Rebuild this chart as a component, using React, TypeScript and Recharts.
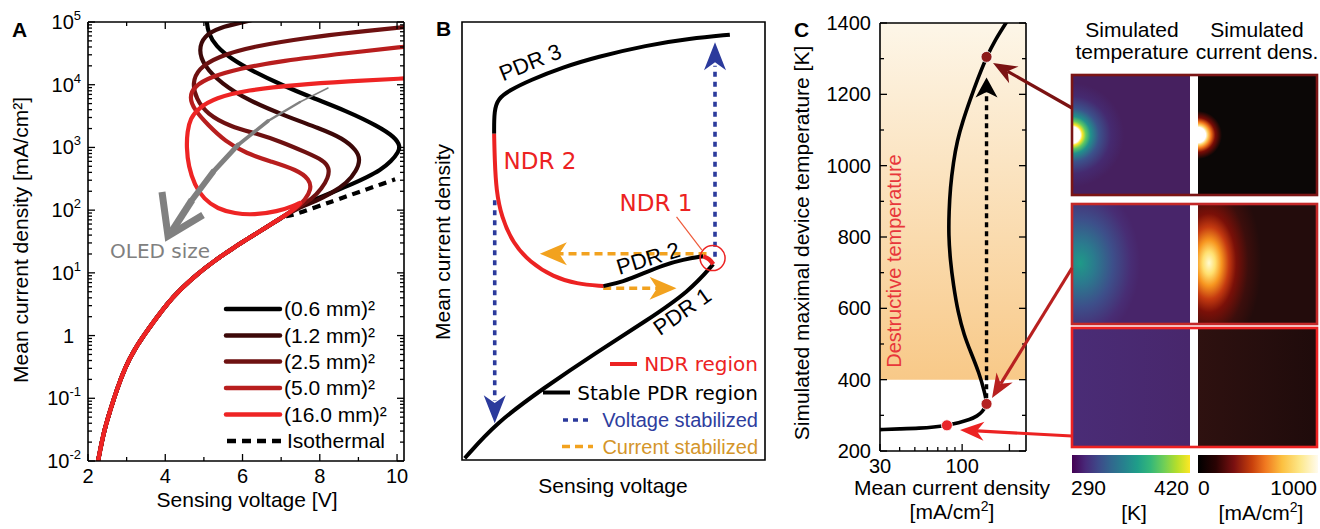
import React from 'react';
import { ComposedChart, Line, XAxis, YAxis, ReferenceArea, ReferenceDot, ReferenceLine } from 'recharts';

const SANS = "'Liberation Sans', Arial, sans-serif";
const DEJAVU = "'DejaVu Sans', Verdana, sans-serif";

// ---------------- Panel A data ----------------
const aVoltTicks = [2, 3, 4, 5, 6, 7, 8, 9, 10];
const aVoltLabels = [2, 4, 6, 8, 10];
const aDecadeExps = [-2, -1, 0, 1, 2, 3, 4, 5];
const aMinorMultipliers = [2, 3, 4, 5, 6, 7, 8, 9];
const aMajorJ = aDecadeExps.map((e) => Math.pow(10, e));
const aMinorJ = aDecadeExps.slice(0, -1).flatMap((e) => aMinorMultipliers.map((m) => m * Math.pow(10, e)));
const aJTicks = [...aMajorJ, ...aMinorJ].sort((a, b) => a - b);

const commonBranch = [
  { v: 2.26, j: 0.01 }, { v: 2.4, j: 0.028 }, { v: 2.57, j: 0.063 }, { v: 2.75, j: 0.14 },
  { v: 2.96, j: 0.31 }, { v: 3.2, j: 0.6 }, { v: 3.53, j: 1.2 }, { v: 4.04, j: 3.2 },
  { v: 4.4, j: 5.5 }, { v: 4.82, j: 9.5 }, { v: 5.3, j: 16 }, { v: 5.76, j: 25 },
  { v: 6.2, j: 37 }, { v: 6.63, j: 54 }, { v: 7.1, j: 82 },
];
const isoTail = [
  { v: 7.23, j: 80 }, { v: 7.83, j: 108 }, { v: 8.35, j: 140 }, { v: 8.8, j: 175 },
  { v: 9.22, j: 215 }, { v: 9.6, j: 260 }, { v: 9.95, j: 310 },
];
const tail06 = [
  { v: 7.5, j: 118 }, { v: 7.9, j: 150 }, { v: 8.35, j: 195 }, { v: 8.87, j: 265 }, { v: 9.22, j: 335 },
  { v: 9.56, j: 430 }, { v: 9.85, j: 600 }, { v: 10.04, j: 850 }, { v: 10.08, j: 1050 }, { v: 9.95, j: 1450 },
  { v: 9.5, j: 2200 }, { v: 8.7, j: 3800 }, { v: 7.8, j: 6200 }, { v: 7.0, j: 10000 }, { v: 6.3, j: 16000 },
  { v: 5.7, j: 26000 }, { v: 5.3, j: 42000 }, { v: 5.12, j: 65000 }, { v: 5.07, j: 100000 }, { v: 5.07, j: 130000 },
];
const tail12 = [
  { v: 7.5, j: 112 }, { v: 7.9, j: 140 }, { v: 8.3, j: 185 }, { v: 8.7, j: 270 }, { v: 8.95, j: 420 },
  { v: 9.05, j: 650 }, { v: 8.95, j: 900 }, { v: 8.6, j: 1400 }, { v: 8.0, j: 2000 }, { v: 7.1, j: 3200 },
  { v: 6.15, j: 5600 }, { v: 5.45, j: 10500 }, { v: 5.0, j: 20000 }, { v: 4.86, j: 36000 }, { v: 5.0, j: 60000 },
  { v: 5.4, j: 82000 }, { v: 6.05, j: 100000 }, { v: 6.3, j: 110000 },
];
const tail25 = [
  { v: 7.45, j: 112 }, { v: 7.8, j: 150 }, { v: 8.05, j: 220 }, { v: 8.22, j: 330 }, { v: 8.25, j: 470 },
  { v: 8.1, j: 620 }, { v: 7.67, j: 820 }, { v: 6.97, j: 1250 }, { v: 6.38, j: 1650 }, { v: 5.68, j: 2150 },
  { v: 5.08, j: 3400 }, { v: 4.8, j: 6000 }, { v: 4.7, j: 10500 }, { v: 4.85, j: 18000 }, { v: 5.35, j: 28000 },
  { v: 6.27, j: 41000 }, { v: 7.75, j: 57000 }, { v: 8.8, j: 68000 }, { v: 10.3, j: 84000 },
];
const tail50 = [
  { v: 7.4, j: 110 }, { v: 7.62, j: 145 }, { v: 7.78, j: 215 }, { v: 7.74, j: 310 }, { v: 7.41, j: 440 },
  { v: 6.72, j: 600 }, { v: 6.1, j: 800 }, { v: 5.55, j: 1250 }, { v: 5.1, j: 2300 }, { v: 4.75, j: 4000 },
  { v: 4.62, j: 6300 }, { v: 4.75, j: 9500 }, { v: 5.2, j: 13500 }, { v: 5.9, j: 18000 }, { v: 7.0, j: 24000 },
  { v: 8.7, j: 32000 }, { v: 10.3, j: 41000 },
];
const tail160 = [
  { v: 7.35, j: 105 }, { v: 7.56, j: 140 }, { v: 7.35, j: 118 }, { v: 6.9, j: 95 }, { v: 6.3, j: 84 },
  { v: 5.8, j: 88 }, { v: 5.35, j: 105 }, { v: 5.0, j: 150 }, { v: 4.76, j: 250 }, { v: 4.6, j: 500 },
  { v: 4.55, j: 1000 }, { v: 4.57, j: 1800 }, { v: 4.65, j: 2900 }, { v: 4.85, j: 4200 }, { v: 5.3, j: 6200 },
  { v: 6.1, j: 8200 }, { v: 7.4, j: 10000 }, { v: 8.7, j: 11300 }, { v: 10.3, j: 12700 },
];
const isothermal = [...commonBranch, ...isoTail];
const sizeCurves = [
  [...commonBranch, ...tail06],
  [...commonBranch, ...tail12],
  [...commonBranch, ...tail25],
  [...commonBranch, ...tail50],
  [...commonBranch, ...tail160],
];
const sizeNames = ['(0.6 mm)²', '(1.2 mm)²', '(2.5 mm)²', '(5.0 mm)²', '(16.0 mm)²'];
const sizeColors = ['#000000', '#3c0808', '#6e1111', '#b81e1e', '#ee2424'];
const isoName = 'Isothermal';

// ---------------- Panel B data (schematic, arbitrary units 0..100) ----------------
const bPdr1 = [
  { x: 0.9, y: 0.4 }, { x: 11.3, y: 8.5 }, { x: 26.7, y: 16.3 }, { x: 44.4, y: 24.6 },
  { x: 60.9, y: 31.8 }, { x: 75.2, y: 38.6 }, { x: 82.9, y: 44.7 },
];
const bNdr1 = [{ x: 82.9, y: 44.7 }, { x: 81.8, y: 45.9 }, { x: 79.6, y: 46.5 }];
const bPdr2 = [
  { x: 79.6, y: 46.5 }, { x: 73, y: 45.8 }, { x: 66.4, y: 44.5 }, { x: 59.8, y: 42.6 },
  { x: 53.2, y: 40.7 }, { x: 46.6, y: 39.7 },
];
const bNdr2 = [
  { x: 46.6, y: 39.7 }, { x: 37.8, y: 40.2 }, { x: 30.1, y: 41.8 }, { x: 22.4, y: 45.2 },
  { x: 16.9, y: 49.4 }, { x: 13, y: 55.5 }, { x: 11.3, y: 61.6 }, { x: 10.8, y: 68.4 }, { x: 10.6, y: 74.5 },
];
const bPdr3 = [
  { x: 10.6, y: 74.5 }, { x: 10.6, y: 79.8 }, { x: 11.9, y: 82.5 }, { x: 15.7, y: 84.4 },
  { x: 22.4, y: 86.7 }, { x: 33.4, y: 89.7 }, { x: 44.4, y: 92 }, { x: 60.9, y: 94.7 },
  { x: 75.2, y: 96.2 }, { x: 88.4, y: 97.1 },
];
const bVoltUp = [{ x: 83.5, y: 46.4 }, { x: 83.5, y: 90 }];
const bVoltDown = [{ x: 10.8, y: 59.3 }, { x: 10.8, y: 13.5 }];
const bCurrLeft = [{ x: 80.7, y: 47.1 }, { x: 31, y: 47.1 }];
const bCurrRight = [{ x: 46.6, y: 39.2 }, { x: 66, y: 39.2 }];
const bHeads = [
  { x: 83.5, y: 95.4, dir: 'up', color: '#2b3a9c' },
  { x: 10.8, y: 8.4, dir: 'down', color: '#2b3a9c' },
  { x: 25.7, y: 47.1, dir: 'left', color: '#f2a21f' },
  { x: 70.8, y: 39.2, dir: 'right', color: '#f2a21f' },
];
const bNdr1Marker = { x: 82.7, y: 46.1 };
const bNdr1Pointer = [{ x: 70.8, y: 55.5 }, { x: 79.2, y: 47.9 }];
const bLegendNames = ['NDR region', 'Stable PDR region', 'Voltage stabilized', 'Current stabilized'];
const bLegendLine = ['#ec2222', '#000000', '#2b3a9c', '#f2a21f'];
const bLegendText = ['#ec2222', '#000000', '#2e3d9e', '#d4952a'];

// ---------------- Panel C data ----------------
const cXTicks = [30, 40, 50, 60, 70, 80, 90, 100, 200];
const cXLabels = [30, 100];
const cYTicks = [200, 300, 400, 500, 600, 700, 800, 900, 1000, 1100, 1200, 1300, 1400];
const cYLabels = [200, 400, 600, 800, 1000, 1200, 1400];
const cCurve = [
  { j: 30, t: 260 }, { j: 40, t: 262 }, { j: 54, t: 264 }, { j: 66, t: 267 }, { j: 80, t: 272 },
  { j: 95, t: 279 }, { j: 112, t: 288 }, { j: 125, t: 298 }, { j: 135, t: 311 }, { j: 141, t: 325 },
  { j: 143, t: 338 }, { j: 139, t: 365 }, { j: 128, t: 420 }, { j: 114, t: 475 }, { j: 103, t: 524 },
  { j: 94, t: 590 }, { j: 88, t: 665 }, { j: 84, t: 735 }, { j: 82, t: 806 }, { j: 82.5, t: 870 },
  { j: 84, t: 938 }, { j: 88, t: 1010 }, { j: 93, t: 1070 }, { j: 101, t: 1125 }, { j: 112, t: 1183 },
  { j: 126, t: 1245 }, { j: 143, t: 1305 }, { j: 162, t: 1352 }, { j: 190, t: 1400 }, { j: 200, t: 1415 },
];
const cJump = [{ j: 143, t: 348 }, { j: 143, t: 1222 }];
const cJumpTip = { j: 143, t: 1247 };
const cDots = [{ j: 80, t: 272 }, { j: 143, t: 332 }, { j: 143, t: 1305 }];
const cDotColors = ['#e8262a', '#b42222', '#8c1a1a'];
const cDestructive = { tMin: 400, tMax: 1400 };

// ---------------- helpers ----------------
const near = (v: number, arr: number[]) => arr.some((a) => Math.abs(a - v) <= Math.abs(a) * 1e-6);

type Side = 'left' | 'right' | 'top' | 'bottom';
function makeTick(side: Side, majors: number[], majorLen: number, minorLen: number,
  label?: (v: number, x: number, y: number) => React.ReactNode) {
  return (p: any) => {
    const { x, y, payload } = p;
    const v = payload.value;
    const major = near(v, majors);
    const L = major ? majorLen : minorLen;
    let x2 = x, y2 = y;
    if (side === 'left') x2 = x + L;
    else if (side === 'right') x2 = x - L;
    else if (side === 'top') y2 = y + L;
    else y2 = y - L;
    return (
      <g>
        <line x1={x} y1={y} x2={x2} y2={y2} stroke="#000" strokeWidth={1.3} />
        {major && label ? label(v, x, y) : null}
      </g>
    );
  };
}

const aYLabel = (v: number, x: number, y: number) => {
  const e = aDecadeExps[aMajorJ.findIndex((m) => Math.abs(m - v) <= m * 1e-6)];
  if (e === 0) return <text x={x - 14} y={y + 7} textAnchor="end" fontSize={20} fontFamily={SANS}>1</text>;
  return (
    <text x={x - 7} y={y + 7} textAnchor="end" fontSize={20} fontFamily={SANS}>
      10<tspan dy={-9} fontSize={13}>{e}</tspan>
    </text>
  );
};
const aXLabel = (v: number, x: number, y: number) =>
  near(v, aVoltLabels) ? <text x={x} y={y + 22} textAnchor="middle" fontSize={20} fontFamily={SANS}>{v}</text> : null;
const cYLabel = (v: number, x: number, y: number) =>
  <text x={x - 9} y={y + 7} textAnchor="end" fontSize={20} fontFamily={SANS}>{v}</text>;
const cXLabel = (v: number, x: number, y: number) =>
  near(v, cXLabels) ? <text x={x} y={y + 22} textAnchor="middle" fontSize={20} fontFamily={SANS}>{v}</text> : null;

function Head({ cx, cy, dir, color, len, w }: any) {
  const d: Record<string, [number, number]> = { up: [0, -1], down: [0, 1], left: [-1, 0], right: [1, 0] };
  const [ux, uy] = d[dir];
  const nx = -uy, ny = ux;
  const bx = cx - ux * len, by = cy - uy * len;
  const mx = cx - ux * len * 0.72, my = cy - uy * len * 0.72;
  return (
    <polygon
      points={`${cx},${cy} ${bx + (nx * w) / 2},${by + (ny * w) / 2} ${mx},${my} ${bx - (nx * w) / 2},${by - (ny * w) / 2}`}
      fill={color}
    />
  );
}

function Arrow({ x1, y1, x2, y2, color, w = 3.2, hl = 24, hw = 19 }: any) {
  const dx = x2 - x1, dy = y2 - y1, L = Math.hypot(dx, dy);
  const ux = dx / L, uy = dy / L, nx = -uy, ny = ux;
  const bx = x2 - ux * hl, by = y2 - uy * hl;
  const mx = x2 - ux * hl * 0.7, my = y2 - uy * hl * 0.7;
  return (
    <g>
      <line x1={x1} y1={y1} x2={mx} y2={my} stroke={color} strokeWidth={w} />
      <polygon points={`${x2},${y2} ${bx + (nx * hw) / 2},${by + (ny * hw) / 2} ${mx},${my} ${bx - (nx * hw) / 2},${by - (ny * hw) / 2}`} fill={color} />
    </g>
  );
}

const axisLineStyle = { stroke: '#000', strokeWidth: 1.6 };

// ---------------- Panels ----------------
function PanelA() {
  return (
    <ComposedChart width={440} height={529} margin={{ top: 21, right: 35, bottom: 67, left: 87 }}>
      <XAxis xAxisId="b" dataKey="v" type="number" domain={[2, 10.18]} allowDataOverflow ticks={aVoltTicks}
        interval={0} height={1} tickSize={0} tickMargin={0} tickLine={false} axisLine={axisLineStyle}
        tick={makeTick('bottom', aVoltLabels, 7, 4, aXLabel)} />
      <XAxis xAxisId="t" orientation="top" dataKey="v" type="number" domain={[2, 10.18]} allowDataOverflow ticks={aVoltTicks}
        interval={0} height={1} tickSize={0} tickMargin={0} tickLine={false} axisLine={axisLineStyle}
        tick={makeTick('top', aVoltLabels, 7, 4)} />
      <YAxis yAxisId="l" type="number" scale="log" domain={[0.01, 100000]} allowDataOverflow ticks={aJTicks}
        interval={0} width={1} tickSize={0} tickMargin={0} tickLine={false} axisLine={axisLineStyle}
        tick={makeTick('left', aMajorJ, 7, 4, aYLabel)} />
      <YAxis yAxisId="r" orientation="right" type="number" scale="log" domain={[0.01, 100000]} allowDataOverflow ticks={aJTicks}
        interval={0} width={1} tickSize={0} tickMargin={0} tickLine={false} axisLine={axisLineStyle}
        tick={makeTick('right', aMajorJ, 7, 4)} />
      <Line xAxisId="b" yAxisId="l" data={isothermal} dataKey="j" type="basis" stroke="#000" strokeWidth={4.2}
        strokeDasharray="8 6" dot={false} activeDot={false} isAnimationActive={false} name={isoName} />
      {sizeCurves.map((c, i) => (
        <Line key={i} xAxisId="b" yAxisId="l" data={c} dataKey="j" type="basis" stroke={sizeColors[i]} strokeWidth={4.2}
          dot={false} activeDot={false} isAnimationActive={false} name={sizeNames[i]} />
      ))}
    </ComposedChart>
  );
}

function PanelB() {
  const common = { xAxisId: 'x', yAxisId: 'y', dataKey: 'y', dot: false, activeDot: false, isAnimationActive: false } as any;
  return (
    <ComposedChart width={340} height={529} margin={{ top: 22, right: 5, bottom: 69, left: 32 }}>
      <XAxis xAxisId="x" dataKey="x" type="number" domain={[0, 100]} hide allowDataOverflow />
      <YAxis yAxisId="y" type="number" domain={[0, 100]} hide allowDataOverflow />
      <ReferenceArea xAxisId="x" yAxisId="y" x1={0} x2={100} y1={0} y2={100} fill="none" stroke="#000" strokeWidth={1.6} />
      <Line {...common} data={bVoltUp} type="linear" stroke="#2b3a9c" strokeWidth={3.6} strokeDasharray="5 5" />
      <Line {...common} data={bVoltDown} type="linear" stroke="#2b3a9c" strokeWidth={3.6} strokeDasharray="5 5" />
      <Line {...common} data={bCurrLeft} type="linear" stroke="#f2a21f" strokeWidth={3.6} strokeDasharray="8 5" />
      <Line {...common} data={bCurrRight} type="linear" stroke="#f2a21f" strokeWidth={3.6} strokeDasharray="8 5" />
      <Line {...common} data={bPdr1} type="basis" stroke="#000" strokeWidth={4} />
      <Line {...common} data={bPdr2} type="basis" stroke="#000" strokeWidth={4} />
      <Line {...common} data={bPdr3} type="basis" stroke="#000" strokeWidth={4} />
      <Line {...common} data={bNdr2} type="basis" stroke="#ec2222" strokeWidth={4} />
      <Line {...common} data={bNdr1} type="basis" stroke="#ec2222" strokeWidth={4.5} />
      {bHeads.map((h, i) => (
        <ReferenceDot key={i} xAxisId="x" yAxisId="y" x={h.x} y={h.y} r={1}
          shape={(p: any) => (
            <Head cx={p.cx} cy={p.cy} dir={h.dir} color={h.color}
              len={h.dir === 'up' || h.dir === 'down' ? 28 : 27} w={h.dir === 'up' || h.dir === 'down' ? 22 : 23} />
          )} />
      ))}
      <ReferenceDot xAxisId="x" yAxisId="y" x={bNdr1Marker.x} y={bNdr1Marker.y} r={12.5} fill="none" stroke="#ec2222" strokeWidth={1.5} />
      <ReferenceLine xAxisId="x" yAxisId="y" segment={bNdr1Pointer} stroke="#ee5a3a" strokeWidth={1.2} />
    </ComposedChart>
  );
}

function PanelC() {
  return (
    <ComposedChart width={300} height={529} margin={{ top: 22, right: 43, bottom: 77, left: 109 }}>
      <XAxis xAxisId="b" dataKey="j" type="number" scale="log" domain={[30, 255]} allowDataOverflow ticks={cXTicks}
        interval={0} height={1} tickSize={0} tickMargin={0} tickLine={false} axisLine={axisLineStyle}
        tick={makeTick('bottom', [30, 100, 200], 7, 4, cXLabel)} />
      <XAxis xAxisId="t" orientation="top" dataKey="j" type="number" scale="log" domain={[30, 255]} allowDataOverflow
        ticks={cXTicks} height={1} tick={false} tickLine={false} axisLine={axisLineStyle} />
      <YAxis yAxisId="l" type="number" domain={[200, 1400]} allowDataOverflow ticks={cYTicks}
        interval={0} width={1} tickSize={0} tickMargin={0} tickLine={false} axisLine={axisLineStyle}
        tick={makeTick('left', cYLabels, 7, 4, cYLabel)} />
      <YAxis yAxisId="r" orientation="right" type="number" domain={[200, 1400]} allowDataOverflow ticks={cYTicks}
        interval={0} width={1} tickSize={0} tickMargin={0} tickLine={false} axisLine={axisLineStyle}
        tick={makeTick('right', cYLabels, 7, 4)} />
      <ReferenceArea xAxisId="b" yAxisId="l" x1={30} x2={255} y1={cDestructive.tMin} y2={cDestructive.tMax}
        fill="url(#destGrad)" fillOpacity={1} stroke="none" />
      <Line xAxisId="b" yAxisId="l" data={cJump} dataKey="t" type="linear" stroke="#000" strokeWidth={3.4}
        strokeDasharray="5 4" dot={false} activeDot={false} isAnimationActive={false} />
      <ReferenceDot xAxisId="b" yAxisId="l" x={cJumpTip.j} y={cJumpTip.t} r={1}
        shape={(p: any) => <Head cx={p.cx} cy={p.cy} dir="up" color="#000" len={20} w={22} />} />
      <Line xAxisId="b" yAxisId="l" data={cCurve} dataKey="t" type="basis" stroke="#000" strokeWidth={3.6}
        dot={false} activeDot={false} isAnimationActive={false} />
      {cDots.map((d, i) => (
        <ReferenceDot key={i} xAxisId="b" yAxisId="l" x={d.j} y={d.t} r={5.5} fill={cDotColors[i]} stroke="#fff" strokeWidth={0.8} />
      ))}
    </ComposedChart>
  );
}

// ---------------- Overlay (titles, legends, annotations, simulated maps) ----------------
const rowsY = [[75, 195], [204, 324], [328, 447]];
const rowBorder = ['#7b1515', '#c42828', '#ec2222'];
const leftImgX = [1072, 1190];
const rightImgX = [1198, 1317];

function Overlay() {
  const t = (x: number, y: number, s: string, extra: any = {}) => (
    <text x={x} y={y} fontFamily={SANS} fontSize={20} {...extra}>{s}</text>
  );
  const legRows = [309, 335.5, 361.5, 388, 414.5, 441];
  const bLegY = [364, 392.5, 420, 446.5];
  const bLegFont = [DEJAVU, DEJAVU, SANS, SANS];
  return (
    <svg width={1320} height={529} style={{ position: 'absolute', left: 0, top: 0, pointerEvents: 'none' }}>
      {/* panel letters */}
      {t(12, 37, 'A', { fontWeight: 'bold', fontSize: 21 })}
      {t(436, 36, 'B', { fontWeight: 'bold', fontSize: 21 })}
      {t(794, 37, 'C', { fontWeight: 'bold', fontSize: 21 })}

      {/* Panel A titles */}
      {t(247, 507, 'Sensing voltage [V]', { textAnchor: 'middle', fontSize: 21 })}
      <text transform="translate(28,240) rotate(-90)" textAnchor="middle" fontFamily={SANS} fontSize={21}>Mean current density [mA/cm²]</text>

      {/* gray arrow */}
      <g stroke="#808080" fill="none" strokeLinecap="round">
        <line x1={328} y1={88} x2={300} y2={102} strokeWidth={1.5} />
        <line x1={300} y1={102} x2={268} y2={121} strokeWidth={2.5} />
        <line x1={268} y1={121} x2={238} y2={145} strokeWidth={3.6} />
        <line x1={238} y1={145} x2={213} y2={172} strokeWidth={4.8} />
        <line x1={213} y1={172} x2={192} y2={200} strokeWidth={6} />
        <line x1={192} y1={200} x2={172} y2={231} strokeWidth={7} strokeLinecap="butt" />
        <polyline points="162,192 168,236 203,215" strokeWidth={7} strokeLinejoin="miter" strokeLinecap="butt" />
      </g>
      <text x={110} y={258} fontFamily={DEJAVU} fontSize={20} fill="#808080">OLED size</text>

      {/* Panel A legend */}
      {sizeNames.map((n, i) => (
        <g key={i}>
          <line x1={226} y1={legRows[i]} x2={280} y2={legRows[i]} stroke={sizeColors[i]} strokeWidth={4.5} strokeLinecap="round" />
          {t(284, legRows[i] + 7, n, { fontSize: 21 })}
        </g>
      ))}
      <line x1={227} y1={legRows[5]} x2={281} y2={legRows[5]} stroke="#000" strokeWidth={4.5} strokeDasharray="9 6" />
      {t(287, legRows[5] + 7, isoName, { fontSize: 21 })}

      {/* Panel B titles and labels */}
      {t(613, 493, 'Sensing voltage', { textAnchor: 'middle', fontSize: 21 })}
      <text transform="translate(450,242) rotate(-90)" textAnchor="middle" fontFamily={SANS} fontSize={21}>Mean current density</text>
      <text transform="translate(530,62) rotate(-22)" textAnchor="middle" y={8} fontFamily={SANS} fontSize={22}>PDR 3</text>
      <text transform="translate(648,258) rotate(-17)" textAnchor="middle" y={8} fontFamily={SANS} fontSize={22}>PDR 2</text>
      <text transform="translate(682,311) rotate(-35)" textAnchor="middle" y={8} fontFamily={SANS} fontSize={22}>PDR 1</text>
      <text x={540} y={169} textAnchor="middle" fontFamily={DEJAVU} fontSize={23} fill="#ec2222">NDR 2</text>
      <text x={656} y={211} textAnchor="middle" fontFamily={DEJAVU} fontSize={23} fill="#ec2222">NDR 1</text>

      {/* Panel B legend */}
      {bLegendNames.map((n, i) => {
        const x2 = [637, 570, 593, 593][i];
        const x1 = [610, 543, 563, 562][i];
        const dash = i === 2 ? '5 5' : i === 3 ? '8 5' : undefined;
        return (
          <g key={i}>
            <line x1={x1} y1={bLegY[i]} x2={x2} y2={bLegY[i]} stroke={bLegendLine[i]} strokeWidth={i < 2 ? 4 : 3.6} strokeDasharray={dash} />
            <text x={758} y={bLegY[i] + 7} textAnchor="end" fontFamily={bLegFont[i]} fontSize={20} fill={bLegendText[i]}>{n}</text>
          </g>
        );
      })}

      {/* Panel C titles */}
      <text transform="translate(809,243) rotate(-90)" textAnchor="middle" fontFamily={SANS} fontSize={21}>Simulated maximal device temperature [K]</text>
      {t(952, 495, 'Mean current density', { textAnchor: 'middle', fontSize: 21 })}
      <text x={952} y={519} textAnchor="middle" fontFamily={SANS} fontSize={21}>[mA/cm<tspan dy={-8} fontSize={14}>2</tspan><tspan dy={8}>]</tspan></text>
      <text transform="translate(901,261) rotate(-90)" textAnchor="middle" fontFamily={SANS} fontSize={20} fill="#e8363a">Destructive temperature</text>

      {/* image headers */}
      {t(1132, 37, 'Simulated', { textAnchor: 'middle', fontSize: 21 })}
      {t(1132, 59, 'temperature', { textAnchor: 'middle', fontSize: 21 })}
      {t(1257, 37, 'Simulated', { textAnchor: 'middle', fontSize: 21 })}
      {t(1257, 59, 'current dens.', { textAnchor: 'middle', fontSize: 21 })}

      {/* simulated maps */}
      {rowsY.map(([y0, y1], i) => (
        <g key={i}>
          <rect x={leftImgX[0]} y={y0} width={leftImgX[1] - leftImgX[0]} height={y1 - y0} fill={`url(#temp${i})`} />
          <rect x={rightImgX[0]} y={y0} width={rightImgX[1] - rightImgX[0]} height={y1 - y0} fill={`url(#curr${i})`} />
          <rect x={leftImgX[0]} y={y0} width={rightImgX[1] - leftImgX[0]} height={y1 - y0} fill="none" stroke={rowBorder[i]} strokeWidth={2.6} />
        </g>
      ))}

      {/* colorbars */}
      <rect x={1072} y={455} width={118} height={18} fill="url(#viridis)" />
      <rect x={1198} y={455} width={120} height={18} fill="url(#hotbar)" />
      {t(1071, 495, '290', { fontSize: 21 })}
      {t(1189, 495, '420', { textAnchor: 'end', fontSize: 21 })}
      {t(1198, 495, '0', { fontSize: 21 })}
      {t(1317, 495, '1000', { textAnchor: 'end', fontSize: 21 })}
      {t(1134, 520, '[K]', { textAnchor: 'middle', fontSize: 21 })}
      <text x={1261} y={520} textAnchor="middle" fontFamily={SANS} fontSize={21}>[mA/cm<tspan dy={-8} fontSize={14}>2</tspan><tspan dy={8}>]</tspan></text>

      {/* arrows from maps to points */}
      <Arrow x1={1072} y1={108} x2={993} y2={63} color="#7b1212" />
      <Arrow x1={1072} y1={268} x2={992} y2={398} color="#b82020" />
      <Arrow x1={1072} y1={436} x2={960} y2={430} color="#ec2222" />
    </svg>
  );
}

function Defs() {
  return (
    <svg width={0} height={0} style={{ position: 'absolute', left: 0, top: 0 }}>
      <defs>
        <linearGradient id="destGrad" x1="0" y1="0" x2="0" y2="1">
          <stop offset="0" stopColor="#fdf6e8" />
          <stop offset="1" stopColor="#f8c988" />
        </linearGradient>
        <linearGradient id="viridis" x1="0" y1="0" x2="1" y2="0">
          {['#440154', '#482878', '#3e4989', '#31688e', '#26828e', '#1f9e89', '#35b779', '#6ece58', '#b5de2b', '#fde725'].map((c, i) => (
            <stop key={i} offset={i / 9} stopColor={c} />
          ))}
        </linearGradient>
        <linearGradient id="hotbar" x1="0" y1="0" x2="1" y2="0">
          <stop offset="0" stopColor="#000000" />
          <stop offset="0.15" stopColor="#2a0303" />
          <stop offset="0.3" stopColor="#7a1010" />
          <stop offset="0.45" stopColor="#c8400c" />
          <stop offset="0.56" stopColor="#f07820" />
          <stop offset="0.7" stopColor="#fcc040" />
          <stop offset="0.85" stopColor="#fde88a" />
          <stop offset="1" stopColor="#fffbee" />
        </linearGradient>
        <radialGradient id="temp0" gradientUnits="userSpaceOnUse" cx={1072} cy={135} r={52}>
          <stop offset="0" stopColor="#ffffff" />
          <stop offset="0.16" stopColor="#ffffff" />
          <stop offset="0.2" stopColor="#fde725" />
          <stop offset="0.27" stopColor="#5ec962" />
          <stop offset="0.36" stopColor="#21918c" />
          <stop offset="0.52" stopColor="#3b528b" />
          <stop offset="0.75" stopColor="#452a70" />
          <stop offset="1" stopColor="#46205f" />
        </radialGradient>
        <radialGradient id="curr0" gradientUnits="userSpaceOnUse" cx={1198} cy={135} r={24}>
          <stop offset="0" stopColor="#ffffff" />
          <stop offset="0.32" stopColor="#ffffff" />
          <stop offset="0.42" stopColor="#ffd060" />
          <stop offset="0.55" stopColor="#f07018" />
          <stop offset="0.72" stopColor="#7a0c06" />
          <stop offset="1" stopColor="#0b0706" />
        </radialGradient>
        <radialGradient id="temp1" gradientUnits="userSpaceOnUse" cx={1080} cy={263} r={80}
          gradientTransform="translate(1080 263) scale(0.75 1) translate(-1080 -263)">
          <stop offset="0" stopColor="#1f9a88" />
          <stop offset="0.25" stopColor="#2b7a8e" />
          <stop offset="0.55" stopColor="#3d4f8a" />
          <stop offset="0.85" stopColor="#482d74" />
          <stop offset="1" stopColor="#48256a" />
        </radialGradient>
        <radialGradient id="curr1" gradientUnits="userSpaceOnUse" cx={1209} cy={263} r={95}
          gradientTransform="translate(1209 263) scale(0.55 1) translate(-1209 -263)">
          <stop offset="0" stopColor="#fffbd0" />
          <stop offset="0.12" stopColor="#ffe070" />
          <stop offset="0.24" stopColor="#f79620" />
          <stop offset="0.38" stopColor="#c43a10" />
          <stop offset="0.52" stopColor="#7a1008" />
          <stop offset="0.75" stopColor="#3c0e0c" />
          <stop offset="1" stopColor="#230c0c" />
        </radialGradient>
        <linearGradient id="temp2" x1="0" y1="0" x2="1" y2="0">
          <stop offset="0" stopColor="#4a2c76" />
          <stop offset="1" stopColor="#48276c" />
        </linearGradient>
        <linearGradient id="curr2" x1="0" y1="0" x2="1" y2="0">
          <stop offset="0" stopColor="#2e1110" />
          <stop offset="1" stopColor="#1f0b0b" />
        </linearGradient>
      </defs>
    </svg>
  );
}

export default function App() {
  return (
    <div style={{ position: 'absolute', left: 0, top: 0, width: 1320, height: 529, background: '#fff', overflow: 'hidden', fontFamily: SANS }}>
      <Defs />
      <div style={{ position: 'absolute', left: 0, top: 0 }}><PanelA /></div>
      <div style={{ position: 'absolute', left: 430, top: 0 }}><PanelB /></div>
      <div style={{ position: 'absolute', left: 770, top: 0 }}><PanelC /></div>
      <Overlay />
    </div>
  );
}
